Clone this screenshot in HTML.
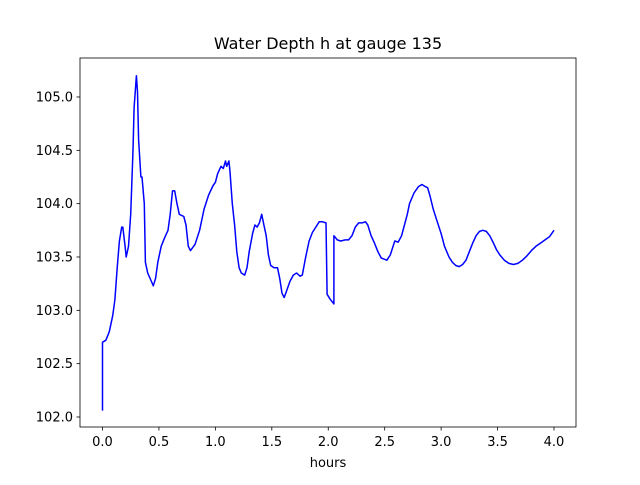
<!DOCTYPE html>
<html><head><meta charset="utf-8"><style>
body{margin:0;background:#fff;font-family:"Liberation Sans","DejaVu Sans",sans-serif}
</style></head><body>
<svg id="c" width="640" height="480" xmlns="http://www.w3.org/2000/svg" font-family="DejaVu Sans, Liberation Sans, sans-serif"></svg>
<script>
const xs=[0,0,0.03,0.06,0.09,0.11,0.13,0.15,0.17,0.18,0.2,0.21,0.23,0.25,0.27,0.28,0.3,0.31,0.32,0.34,0.35,0.37,0.38,0.4,0.43,0.45,0.47,0.49,0.52,0.55,0.58,0.6,0.62,0.64,0.66,0.68,0.72,0.74,0.76,0.78,0.82,0.86,0.9,0.94,0.98,1.0,1.02,1.05,1.07,1.09,1.1,1.12,1.13,1.15,1.17,1.19,1.21,1.23,1.26,1.28,1.3,1.33,1.35,1.37,1.39,1.41,1.43,1.45,1.47,1.49,1.52,1.55,1.57,1.59,1.61,1.63,1.66,1.69,1.72,1.75,1.77,1.8,1.83,1.86,1.89,1.92,1.95,1.98,1.99,2.02,2.05,2.05,2.08,2.11,2.15,2.18,2.21,2.24,2.27,2.3,2.33,2.35,2.38,2.41,2.44,2.47,2.52,2.55,2.59,2.62,2.65,2.7,2.72,2.76,2.8,2.83,2.86,2.88,2.9,2.93,2.96,3.0,3.03,3.07,3.1,3.13,3.16,3.19,3.22,3.25,3.28,3.31,3.34,3.37,3.4,3.43,3.46,3.49,3.52,3.56,3.6,3.64,3.68,3.72,3.76,3.8,3.84,3.88,3.92,3.96,4.0];
const hs=[102.06,102.7,102.72,102.8,102.95,103.1,103.4,103.65,103.78,103.78,103.6,103.5,103.6,103.9,104.5,104.9,105.2,105.05,104.6,104.25,104.25,104.0,103.45,103.35,103.28,103.23,103.3,103.45,103.6,103.68,103.75,103.9,104.12,104.12,104.0,103.9,103.88,103.8,103.6,103.56,103.62,103.75,103.95,104.08,104.17,104.2,104.28,104.35,104.33,104.4,104.35,104.4,104.3,104.0,103.8,103.55,103.4,103.35,103.33,103.4,103.55,103.72,103.8,103.78,103.82,103.9,103.8,103.7,103.52,103.42,103.4,103.4,103.3,103.16,103.12,103.18,103.27,103.33,103.35,103.32,103.33,103.5,103.65,103.73,103.78,103.83,103.83,103.82,103.15,103.1,103.06,103.7,103.66,103.65,103.66,103.66,103.7,103.78,103.82,103.82,103.83,103.8,103.7,103.63,103.55,103.49,103.47,103.52,103.65,103.64,103.7,103.9,104.0,104.1,104.16,104.18,104.16,104.15,104.08,103.95,103.85,103.72,103.6,103.5,103.45,103.42,103.41,103.43,103.47,103.55,103.63,103.7,103.74,103.75,103.74,103.7,103.64,103.57,103.52,103.47,103.44,103.43,103.44,103.47,103.51,103.56,103.6,103.63,103.66,103.69,103.75];
const xTicks=[0,0.5,1,1.5,2,2.5,3,3.5,4];
const xTickLabels=["0.0","0.5","1.0","1.5","2.0","2.5","3.0","3.5","4.0"];
const yTicks=[102,102.5,103,103.5,104,104.5,105];
const yTickLabels=["102.0","102.5","103.0","103.5","104.0","104.5","105.0"];
const L=80,R=576,T=58,B=427;
const X=v=>102.5+v*112.875, Y=v=>417-(v-102)*106.67;
const s=document.getElementById('c'),NS="http://www.w3.org/2000/svg";
function mk(t,a,txt){const e=document.createElementNS(NS,t);for(const k in a)e.setAttribute(k,a[k]);if(txt!==undefined)e.textContent=txt;s.appendChild(e);return e;}
let d=xs.map((x,i)=>(i?'L':'M')+X(x).toFixed(1)+','+Y(hs[i]).toFixed(1)).join('');
let p=mk('path',{d:d,fill:'none',stroke:'#0000ff','stroke-width':1.5,'stroke-linejoin':'round'});


let f=mk('rect',{x:L,y:T,width:R-L,height:B-T,fill:'none',stroke:'#000','stroke-width':0.8});


xTicks.forEach((v,i)=>{mk('line',{x1:X(v),x2:X(v),y1:B,y2:B+3.5,stroke:'#000','stroke-width':0.8});
let t=mk('text',{x:X(v),y:B+19,'font-size':13,'text-anchor':'middle'},xTickLabels[i]);

});
yTicks.forEach((v,i)=>{mk('line',{x1:L-3.5,x2:L,y1:Y(v),y2:Y(v),stroke:'#000','stroke-width':0.8});
let t=mk('text',{x:L-7,y:Y(v)+4.5,'font-size':13,'text-anchor':'end'},yTickLabels[i]);

});
let xt=mk('text',{x:328,y:467,'font-size':13,'text-anchor':'middle'},'hours');


let tt=mk('text',{x:328,y:49,'font-size':16,'text-anchor':'middle'},'Water Depth h at gauge 135');


</script>
</body></html>
